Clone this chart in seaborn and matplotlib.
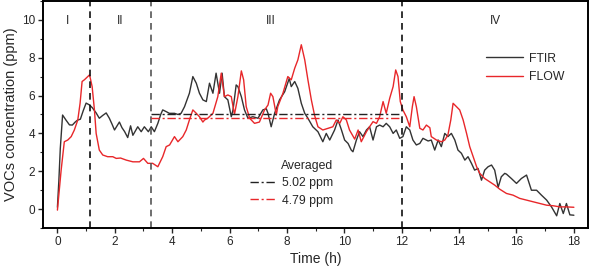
import numpy as np
import matplotlib
matplotlib.use("Agg")
import matplotlib.pyplot as plt
import seaborn as sns
from matplotlib.lines import Line2D
from matplotlib.ticker import MultipleLocator

# FTIR measurement (h, ppm)
ftir_t = [0.0, 0.05, 0.1, 0.18, 0.3, 0.42, 0.52, 0.62, 0.7, 0.8, 0.9, 1.0, 1.12, 1.22,
          1.35, 1.46, 1.58, 1.7, 1.81, 1.9, 1.99, 2.08, 2.16, 2.25, 2.34, 2.45, 2.55,
          2.63, 2.8, 2.92, 3.03, 3.17, 3.27, 3.38, 3.5, 3.6, 3.67, 3.79, 3.9, 4.08, 4.2,
          4.31, 4.43, 4.6, 4.72, 4.84, 4.95, 5.07, 5.19, 5.3, 5.42, 5.53, 5.65, 5.74,
          5.82, 5.94, 6.06, 6.12, 6.23, 6.29, 6.41, 6.52, 6.64, 6.81, 6.99, 7.16, 7.28,
          7.34, 7.45, 7.57, 7.74, 7.92, 8.08, 8.15, 8.27, 8.38, 8.5, 8.62, 8.73, 8.9,
          9.08, 9.25, 9.37, 9.49, 9.66, 9.78, 9.9, 10.01, 10.13, 10.24, 10.3, 10.42,
          10.53, 10.65, 10.77, 10.88, 11.0, 11.12, 11.23, 11.35, 11.46, 11.58, 11.7,
          11.81, 11.93, 12.04, 12.16, 12.28, 12.39, 12.51, 12.63, 12.74, 12.92, 13.03,
          13.15, 13.27, 13.38, 13.5, 13.61, 13.73, 13.85, 13.96, 14.08, 14.2, 14.31,
          14.43, 14.54, 14.66, 14.78, 14.89, 15.01, 15.13, 15.24, 15.36, 15.47, 15.59,
          15.65, 15.82, 16.0, 16.17, 16.35, 16.52, 16.7, 16.87, 17.05, 17.22, 17.4,
          17.51, 17.63, 17.74, 17.86, 18.0]
ftir_c = [0.1, 1.5, 3.2, 4.97, 4.7, 4.45, 4.44, 4.6, 4.7, 4.75, 5.2, 5.6, 5.5, 5.35,
          5.08, 4.8, 4.95, 5.08, 4.8, 4.5, 4.18, 4.4, 4.6, 4.3, 4.1, 3.78, 4.4,
          3.9, 4.35, 4.09, 4.35, 4.09, 4.35, 4.09, 4.53, 5.0, 5.24, 5.15, 5.06, 5.06, 5.0,
          5.06, 5.41, 6.12, 7.0, 6.65, 6.12, 5.77, 5.68, 6.65, 6.12, 7.18, 6.12, 7.18,
          5.94, 5.77, 4.88, 5.24, 6.56, 6.47, 5.94, 5.24, 4.8, 4.88, 4.8, 5.24, 5.3,
          5.06, 4.35, 5.06, 5.77, 6.2, 6.9, 6.47, 6.74, 6.38, 5.59, 5.06, 4.8, 4.35,
          4.09, 3.56, 4.0, 3.65, 4.18, 4.71, 4.18, 3.65, 3.47, 3.12, 3.03, 3.65,
          4.09, 3.83, 4.18, 4.35, 3.65, 4.35, 4.44, 4.35, 4.53, 4.35, 4.0,
          4.18, 3.74, 3.83, 4.35, 4.18, 3.65, 3.39, 3.47, 3.74, 3.6, 3.65,
          3.12, 3.65, 3.3, 4.0, 3.83, 4.0, 3.65, 3.12, 2.95, 2.59, 2.77,
          2.42, 2.06, 2.15, 1.53, 2.06, 2.24, 2.33, 2.06, 1.15, 1.71, 1.89,
          1.85, 1.62, 1.36, 1.62, 1.8, 1.0, 1.0, 0.74, 0.48, 0.12, -0.35,
          0.3, -0.23, 0.3, -0.3, -0.32]

# FLOW model (h, ppm)
flow_t = [0.0, 0.13, 0.24, 0.36, 0.48, 0.59, 0.71, 0.79, 0.86, 0.94, 1.06, 1.12, 1.21,
          1.29, 1.35, 1.46, 1.58, 1.75, 1.93, 2.05, 2.2, 2.4, 2.63, 2.86, 3.0, 3.15,
          3.32, 3.5, 3.67, 3.79, 3.91, 4.08, 4.2, 4.37, 4.49, 4.6, 4.72, 4.84, 4.95,
          5.07, 5.13, 5.24, 5.42, 5.59, 5.71, 5.82, 5.94, 6.06, 6.17, 6.29, 6.41, 6.49,
          6.58, 6.7, 6.87, 7.04, 7.22, 7.34, 7.43, 7.51, 7.63, 7.68, 7.86, 8.03, 8.15,
          8.27, 8.38, 8.5, 8.62, 8.73, 8.85, 8.96, 9.08, 9.25, 9.43, 9.6, 9.72, 9.84,
          9.95, 10.07, 10.18, 10.36, 10.48, 10.59, 10.77, 10.88, 11.0, 11.12, 11.23,
          11.35, 11.46, 11.58, 11.7, 11.79, 11.87, 11.95, 12.04, 12.16, 12.28, 12.37,
          12.43, 12.51, 12.63, 12.74, 12.86, 12.98, 13.03, 13.21, 13.38, 13.5, 13.61,
          13.71, 13.79, 13.91, 14.02, 14.14, 14.26, 14.37, 14.49, 14.61, 14.72, 14.89,
          15.07, 15.24, 15.42, 15.65, 15.88, 16.11, 16.35, 16.58, 16.81, 17.05, 17.28,
          17.51, 17.74, 18.0]
flow_c = [-0.05, 2.06, 3.56, 3.65, 3.83, 4.18, 4.71, 5.59, 6.74, 6.83, 7.0, 7.09, 6.47,
          5.24, 4.0, 3.12, 2.86, 2.77, 2.77, 2.68, 2.7, 2.59, 2.5, 2.5, 2.68, 2.42,
          2.42, 2.24, 2.77, 3.3, 3.39, 3.83, 3.56, 3.83, 4.18, 4.71, 5.24, 5.06, 4.88,
          4.6, 4.71, 4.8, 5.06, 5.94, 7.18, 5.94, 6.03, 5.94, 5.0, 5.94, 7.3, 6.83,
          5.41, 4.8, 4.53, 4.6, 5.24, 5.5, 6.12, 5.94, 4.97, 5.41, 6.12, 7.0, 6.83,
          7.44, 7.88, 8.68, 7.88, 6.83, 5.77, 4.97, 4.35, 4.18, 4.27, 4.35, 4.71, 4.53,
          4.88, 4.71, 4.18, 3.7, 4.18, 3.56, 4.09, 4.35, 4.62, 4.53, 4.88,
          5.68, 5.06, 5.85, 6.47, 7.35, 7.0, 5.68, 5.24, 4.88, 4.35, 5.41,
          5.94, 5.41, 4.27, 4.18, 4.44, 4.3, 3.83, 3.65, 3.56, 3.65, 3.92,
          4.71, 5.59, 5.41, 5.24, 4.71, 4.0, 3.3, 2.77, 2.24, 1.89, 1.62,
          1.44, 1.27, 1.05, 0.83, 0.74, 0.57, 0.48, 0.39, 0.3, 0.21, 0.18,
          0.12, 0.12, 0.1]

# averaged values over stage III
avg_span = [3.25, 11.95]
avg_ftir = 5.02
avg_flow = 4.79

# stage boundaries and labels
stage_bounds = [1.15, 3.25, 12.0]
stage_colors = ["#111111", "#555555", "#111111"]
stage_names = ["I", "II", "III", "IV"]
stage_pos = [0.36, 2.2, 7.43, 15.27]

BLACK = "#333333"
RED = "#e8272a"
DASHDOT = (0, (6, 2, 1.5, 2))

sns.set_style("ticks")
plt.rcParams["font.family"] = ["Liberation Sans", "DejaVu Sans"]

fig = plt.figure(figsize=(5.9, 2.69), dpi=100)
ax = fig.add_axes([0.073, 0.152, 0.924, 0.845])

sns.lineplot(x=ftir_t, y=ftir_c, ax=ax, color=BLACK, lw=1.0, estimator=None,
             sort=False)
sns.lineplot(x=flow_t, y=flow_c, ax=ax, color=RED, lw=1.0, estimator=None,
             sort=False)

for xb, c in zip(stage_bounds, stage_colors):
    ax.axvline(xb, color=c, ls=(0, (4, 3)), lw=1.2)

ax.hlines(avg_ftir, avg_span[0], avg_span[1], color="#222222", lw=1.0, ls=DASHDOT)
ax.hlines(avg_flow, avg_span[0], avg_span[1], color=RED, lw=1.0, ls=DASHDOT)

for name, xp in zip(stage_names, stage_pos):
    ax.text(xp, 9.95, name, ha="center", va="center", fontsize=8.5)

ax.set_xlim(-0.5, 18.5)
ax.set_ylim(-1, 11)
ax.xaxis.set_major_locator(MultipleLocator(2))
ax.xaxis.set_minor_locator(MultipleLocator(1))
ax.yaxis.set_major_locator(MultipleLocator(2))
ax.yaxis.set_minor_locator(MultipleLocator(1))
ax.tick_params(which="major", direction="out", length=3.5, width=1.0,
               labelsize=8.5, pad=2)
ax.tick_params(which="minor", direction="out", length=2, width=0.8)
for sp in ax.spines.values():
    sp.set_visible(True)
    sp.set_linewidth(1.4)
    sp.set_color("black")

ax.set_xlabel("Time (h)", fontsize=10, labelpad=3)
ax.set_ylabel("VOCs concentration (ppm)", fontsize=10.5, labelpad=3)

h1 = [Line2D([], [], color=BLACK, lw=1.0), Line2D([], [], color=RED, lw=1.0)]
leg1 = ax.legend(h1, ["FTIR", "FLOW"], loc="upper left",
                 bbox_to_anchor=(0.793, 0.82), frameon=False, fontsize=8.8,
                 handlelength=3.0, handletextpad=0.5, labelspacing=0.55)
ax.add_artist(leg1)

h2 = [Line2D([], [], color="#222222", lw=1.0, ls=DASHDOT),
      Line2D([], [], color=RED, lw=1.0, ls=DASHDOT)]
ax.legend(h2, [f"{avg_ftir:.2f} ppm", f"{avg_flow:.2f} ppm"], title="Averaged",
          title_fontsize=8.8, fontsize=8.8, loc="upper left",
          bbox_to_anchor=(0.36, 0.35), frameon=False, handlelength=2.2,
          handletextpad=0.4, labelspacing=0.45, alignment="right")

fig.savefig("out.png", dpi=100)
